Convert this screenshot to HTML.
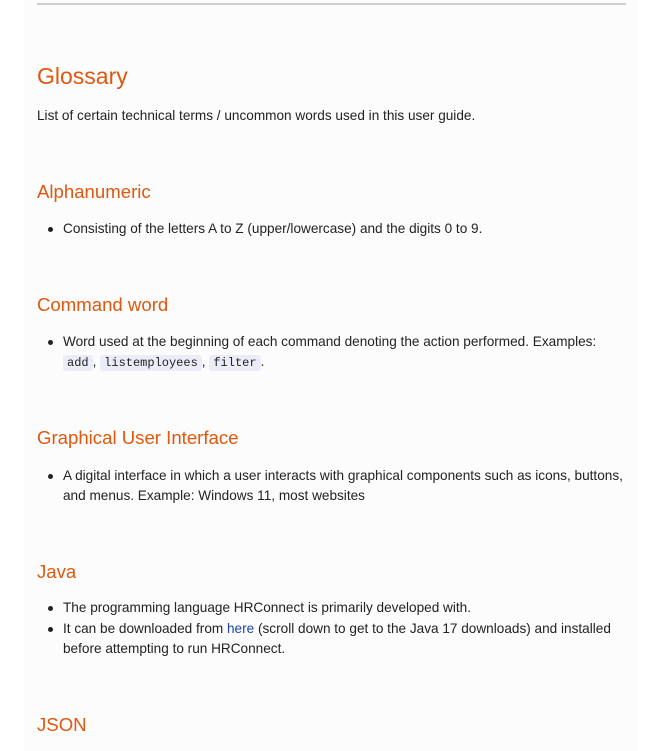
<!DOCTYPE html>
<html><head><meta charset="utf-8"><style>
body{margin:0;width:658px;height:751px;overflow:hidden;background:#fff;font-family:"Liberation Sans",sans-serif;color:#222;position:relative}
.panel{position:absolute;left:24px;top:0;width:614px;height:751px;background:#fcfcfc}
.rule{position:absolute;left:37px;top:3px;width:589px;height:2px;background:#cfcfcf}
.a{position:absolute;left:37px;white-space:nowrap}
h1{font-weight:normal;color:#e0570e;font-size:23px;margin:0}
h2{font-weight:normal;color:#e0570e;font-size:18.6px;margin:0}
.t{font-size:13.6px;line-height:20px}
.li{position:absolute;left:63px;font-size:13.6px;line-height:20px;width:575px;white-space:nowrap}
.li:before{content:"";position:absolute;left:-15px;top:8px;width:5px;height:5px;border-radius:50%;background:#222}
code{font-family:"Liberation Mono",monospace;font-size:12px;background:#ececf8;border-radius:3px;padding:1px 4px}
a{color:#1a45a8;text-decoration:none}
</style></head><body>
<div class="panel"></div>
<div class="rule"></div>
<h1 class="a" style="top:63px">Glossary</h1>
<div class="a t" style="top:106px">List of certain technical terms / uncommon words used in this user guide.</div>
<h2 class="a" style="top:181px">Alphanumeric</h2>
<div class="li" style="top:219px">Consisting of the letters A to Z (upper/lowercase) and the digits 0 to 9.</div>
<h2 class="a" style="top:294px">Command word</h2>
<div class="li" style="top:332px">Word used at the beginning of each command denoting the action performed. Examples:<br><code>add</code>, <code>listemployees</code>, <code>filter</code>.</div>
<h2 class="a" style="top:427px">Graphical User Interface</h2>
<div class="li" style="top:466px">A digital interface in which a user interacts with graphical components such as icons, buttons,<br>and menus. Example: Windows 11, most websites</div>
<h2 class="a" style="top:561px">Java</h2>
<div class="li" style="top:598px">The programming language HRConnect is primarily developed with.</div>
<div class="li" style="top:619px">It can be downloaded from <a href="#">here</a> (scroll down to get to the Java 17 downloads) and installed<br>before attempting to run HRConnect.</div>
<h2 class="a" style="top:714px">JSON</h2>
</body></html>
